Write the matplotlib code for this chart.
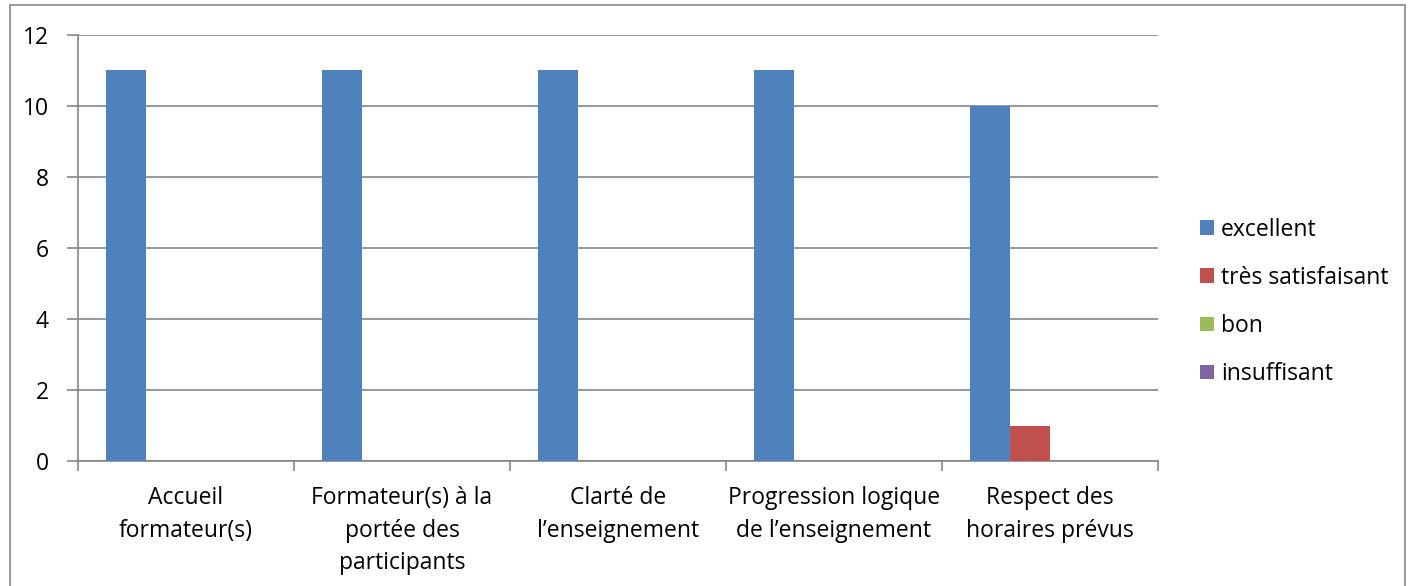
import matplotlib.pyplot as plt
import numpy as np
from matplotlib.patches import Patch, Rectangle

plt.rcParams['font.family'] = ['Open Sans', 'DejaVu Sans']

categories = ["Accueil\nformateur(s)",
              "Formateur(s) à la\nportée des\nparticipants",
              "Clarté de\nl\u2019enseignement",
              "Progression logique\nde l\u2019enseignement",
              "Respect des\nhoraires prévus"]
series_names = ["excellent", "très satisfaisant", "bon", "insuffisant"]
excellent = [11, 11, 11, 11, 10]
tres_satisfaisant = [0, 0, 0, 0, 1]
bon = [0, 0, 0, 0, 0]
insuffisant = [0, 0, 0, 0, 0]
colors = ["#4F81BD", "#C0504D", "#9BBB59", "#8064A2"]

W, H = 1411, 586
fig = plt.figure(figsize=(W / 100, H / 100), dpi=100)
fig.patches.append(Rectangle((10 / W, -0.1), 1395 / W, 1.1 - 5 / H, transform=fig.transFigure,
                             fill=False, edgecolor="#868686", linewidth=1.2))

ax = fig.add_axes([78 / W, (H - 461) / H, 1080 / W, 426 / H])

grid_color = "#868686"
fs = 16.5
x = np.arange(len(categories))
width = 0.185
values = [excellent, tres_satisfaisant, bon, insuffisant]
for i, (vals, name, col) in enumerate(zip(values, series_names, colors)):
    ax.bar(x + (i - 1.5) * width, vals, width, color=col, label=name, zorder=3)

ax.set_xlim(-0.5, len(categories) - 0.5)
ax.set_ylim(0, 12)
ax.set_yticks(range(0, 13, 2))
ax.yaxis.grid(True, color=grid_color, linewidth=1.2, zorder=0)
ax.set_axisbelow(True)

ax.set_xticks(x)
ax.set_xticklabels(categories, linespacing=1.48)
ax.set_xticks(np.arange(-0.5, len(categories), 1), minor=True)
ax.tick_params(axis='x', which='major', length=0, pad=18, labelsize=fs)
ax.tick_params(axis='x', which='minor', length=7, width=1.2, color=grid_color)
ax.tick_params(axis='y', length=8, width=1.2, color=grid_color, pad=13, labelsize=fs)

for s in ["top", "right"]:
    ax.spines[s].set_visible(False)
for s in ["left", "bottom"]:
    ax.spines[s].set_color(grid_color)
    ax.spines[s].set_linewidth(1.2)

handles = [Patch(facecolor=c, edgecolor='none') for c in colors]
fig.legend(handles, series_names, loc='center left', bbox_to_anchor=(1200 / W, 1 - 302 / H),
           frameon=False, fontsize=fs, handlelength=0.62, handleheight=0.62,
           handletextpad=0.3, labelspacing=1.05, borderpad=0, borderaxespad=0)

fig.savefig("out.png", dpi=100)
